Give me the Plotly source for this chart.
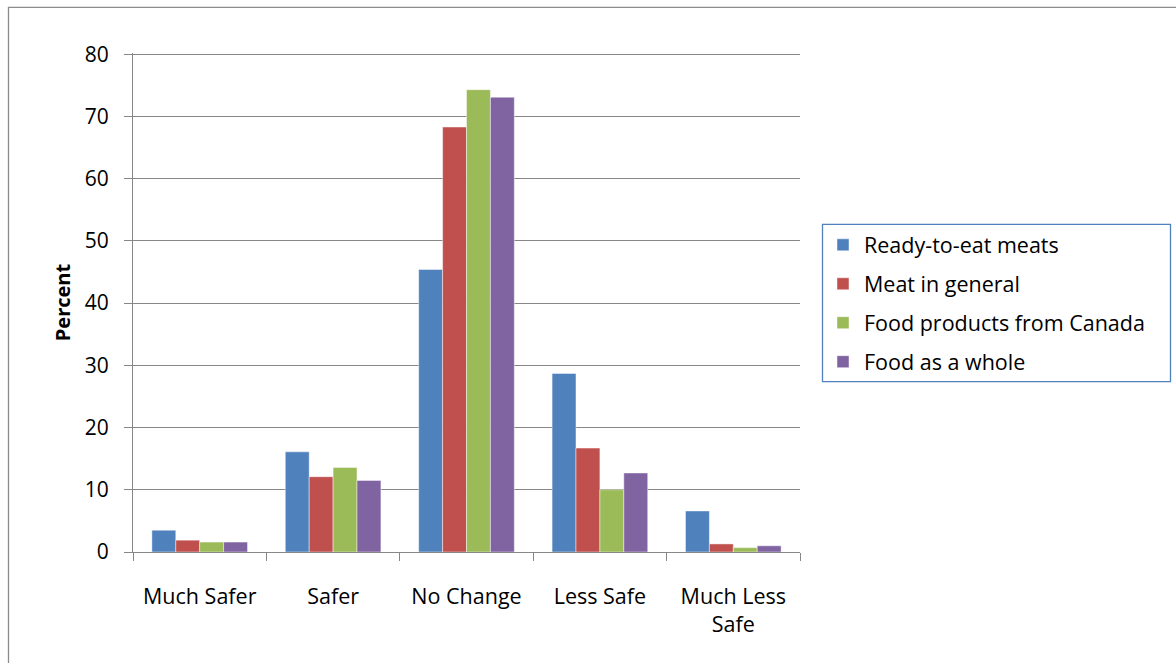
import plotly.graph_objects as go

categories = ["Much Safer", "Safer", "No Change", "Less Safe", "Much Less<br>Safe"]
series_names = ["Ready-to-eat meats", "Meat in general", "Food products from Canada", "Food as a whole"]
ready_to_eat = [3.5, 16.1, 45.4, 28.7, 6.6]
meat_general = [1.9, 12.1, 68.3, 16.7, 1.3]
food_canada = [1.6, 13.6, 74.3, 10.0, 0.7]
food_whole = [1.6, 11.5, 73.1, 12.7, 1.0]
colors = ["#4F81BD", "#C0504D", "#9BBB59", "#8064A2"]
y_ticks = [0, 10, 20, 30, 40, 50, 60, 70, 80]

FONT = "Open Sans"
FS = 21
GRID = "#878787"

fig = go.Figure()
for i, (name, vals) in enumerate(zip(series_names, [ready_to_eat, meat_general, food_canada, food_whole])):
    fig.add_trace(go.Bar(
        x=categories, y=vals, name=name,
        marker=dict(color=colors[i], line=dict(color="rgba(255,255,255,0.45)", width=1)),
        legendgroup=f"g{i}",
    ))

L, R, T, B = 133, 800, 54, 552
W, H = 1176, 663
pw, ph = R - L, B - T

def px_x(p):
    return (p - L) / pw

def px_y(p):
    return (B - p) / ph

fig.update_layout(
    width=W, height=H,
    margin=dict(l=L, r=W - R, t=T - 1, b=H - B, pad=0),
    paper_bgcolor="white", plot_bgcolor="white",
    font=dict(family=FONT, size=FS, color="#000000"),
    barmode="group", bargap=0.283, bargroupgap=0,
    showlegend=True,
    legend=dict(
        x=px_x(822), y=px_y(225), xanchor="left", yanchor="top",
        borderwidth=0, bgcolor="rgba(0,0,0,0)",
        font=dict(family=FONT, size=21.5),
        tracegroupgap=8, traceorder="grouped",
        itemwidth=32,
    ),
    xaxis=dict(
        showline=True, linecolor=GRID, linewidth=1.3,
        ticks="outside", tickson="boundaries", ticklen=8, tickcolor=GRID, tickwidth=1.3,
        showgrid=False, tickfont=dict(size=21.5), ticklabelstandoff=25,
    ),
    yaxis=dict(
        range=[0, 80.2], tickvals=y_ticks,
        showline=True, linecolor=GRID, linewidth=1.3,
        ticks="outside", ticklen=8, tickcolor=GRID, tickwidth=1.3,
        showgrid=True, gridcolor=GRID, gridwidth=1.3,
        zeroline=False, tickfont=dict(size=FS), ticklabelstandoff=11,
        title=dict(text="<b>Percent</b>", font=dict(size=20), standoff=8),
    ),
    shapes=[
        # outer chart frame
        dict(
            type="rect", xref="paper", yref="paper",
            x0=px_x(8.5), x1=px_x(1200), y0=px_y(700), y1=px_y(8.5),
            line=dict(color="#8c8c8c", width=1.3), layer="below",
        ),
        # legend frame
        dict(
            type="rect", xref="paper", yref="paper",
            x0=px_x(822.5), x1=px_x(1170.5), y0=px_y(382), y1=px_y(225),
            line=dict(color="#4F81BD", width=1.3), layer="below",
        ),
    ],
)

fig.write_html("out.html")
